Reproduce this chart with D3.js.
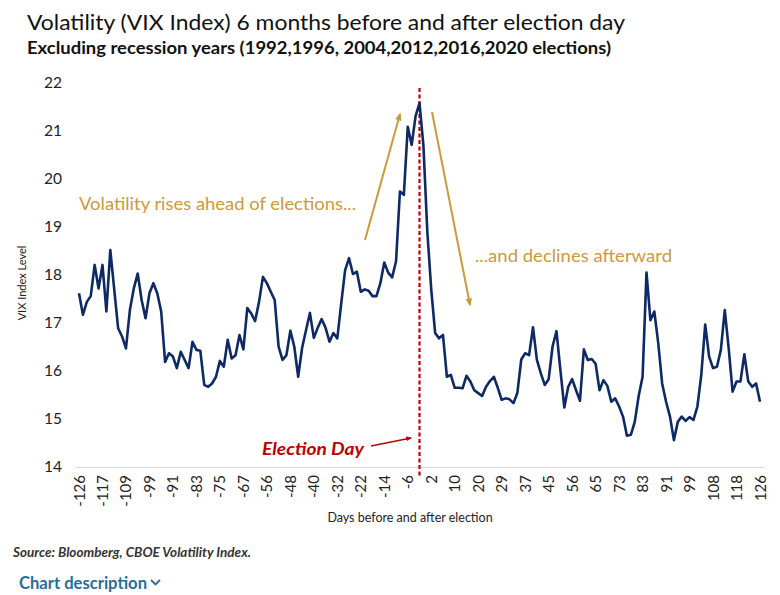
<!DOCTYPE html>
<html><head><meta charset="utf-8">
<script src="https://cdn.jsdelivr.net/npm/d3@7"></script>
<style>
html,body{margin:0;padding:0;background:#fff;}
svg{display:block;font-family:Lato,"Open Sans",sans-serif;}
</style></head>
<body>
<script>
// Tick labels (days before/after election), one every 6 data points
const tickLabels = [-126,-117,-109,-99,-91,-83,-75,-67,-56,-48,-40,-32,-22,-14,-6,2,10,20,29,37,45,56,65,73,83,91,99,108,118,126];
// Average VIX level, 175 observations
const vix = [
17.62,17.17,17.44,17.56,18.21,17.72,18.21,17.24,18.52,17.70,
16.89,16.72,16.47,17.27,17.72,18.03,17.48,17.10,17.62,17.83,
17.62,17.24,16.19,16.37,16.30,16.06,16.40,16.23,16.06,16.61,
16.44,16.42,15.71,15.67,15.74,15.88,16.21,16.09,16.65,16.26,
16.33,16.75,16.45,17.31,17.20,17.04,17.44,17.96,17.83,17.65,
17.48,16.51,16.23,16.33,16.84,16.51,15.88,16.48,16.85,17.21,
16.69,16.90,17.08,16.90,16.61,16.79,16.68,17.41,18.10,18.35,
18.02,18.07,17.65,17.70,17.67,17.56,17.56,17.83,18.26,18.05,
17.95,18.28,19.74,19.67,21.09,20.71,21.31,21.58,20.70,18.90,
17.70,16.79,16.68,16.75,15.88,15.92,15.65,15.65,15.64,15.90,
15.78,15.60,15.54,15.48,15.67,15.79,15.88,15.65,15.40,15.43,
15.41,15.33,15.54,16.24,16.37,16.33,16.91,16.23,15.95,15.71,
15.83,16.51,16.83,16.02,15.24,15.67,15.83,15.60,15.38,16.45,
16.23,16.25,16.15,15.60,15.81,15.69,15.36,15.43,15.26,15.05,
14.65,14.67,14.94,15.48,15.88,18.05,17.06,17.24,16.58,15.74,
15.36,15.05,14.56,14.94,15.05,14.96,15.04,14.98,15.26,15.92,
16.97,16.30,16.06,16.09,16.44,17.27,16.47,15.57,15.78,15.78,
16.35,15.78,15.67,15.74,15.36
];
const yTicks = [14,15,16,17,18,19,20,21,22];
const electionIndex = 87;

const W = 780, H = 595;
const svg = d3.select("body").append("svg").attr("width", W).attr("height", H);

const x = d3.scaleLinear().domain([0, vix.length - 1]).range([79, 760]);
const y = d3.scaleLinear().domain([14, 22]).range([467, 83]);

// Title
svg.append("text").attr("x", 27).attr("y", 30)
  .attr("font-size", 21).attr("fill", "#111")
  .attr("textLength", 598).attr("lengthAdjust", "spacingAndGlyphs")
  .text("Volatility (VIX Index) 6 months before and after election day");
svg.append("text").attr("x", 27).attr("y", 54)
  .attr("font-size", 16.5).attr("font-weight", "bold").attr("fill", "#111")
  .attr("textLength", 584).attr("lengthAdjust", "spacingAndGlyphs")
  .text("Excluding recession years (1992,1996, 2004,2012,2016,2020 elections)");

// Y axis
const yAxis = svg.append("g").attr("transform", "translate(75,0)")
  .call(d3.axisLeft(y).tickValues(yTicks).tickSize(0).tickPadding(13).tickFormat(d3.format("d")));
yAxis.select(".domain").remove();
yAxis.selectAll("text").attr("font-size", 15.5).attr("fill", "#222").attr("font-family", "Lato,sans-serif");

svg.append("text")
  .attr("transform", "translate(26,283) rotate(-90)")
  .attr("text-anchor", "middle").attr("font-size", 11).attr("fill", "#222")
  .text("VIX Index Level");

// X axis
const xAxis = svg.append("g").attr("transform", "translate(0,467)")
  .call(d3.axisBottom(x)
    .tickValues(d3.range(0, vix.length, 6))
    .tickSize(0)
    .tickFormat((d, i) => tickLabels[i]));
xAxis.select(".domain").attr("stroke", "#d9d9d9").attr("stroke-width", 1)
  .attr("d", "M75,0.5H765");
xAxis.selectAll("text")
  .attr("font-size", 15).attr("fill", "#222").attr("font-family", "Lato,sans-serif")
  .attr("text-anchor", "end").attr("dy", null).attr("y", 0)
  .attr("transform", "translate(5,8) rotate(-90)");

svg.append("text").attr("x", 410).attr("y", 522)
  .attr("text-anchor", "middle").attr("font-size", 12.5).attr("fill", "#222")
  .text("Days before and after election");

// Election day dashed line
svg.append("line")
  .attr("x1", x(electionIndex)).attr("x2", x(electionIndex))
  .attr("y1", 88).attr("y2", 477)
  .attr("stroke", "#c00000").attr("stroke-width", 2.2).attr("stroke-dasharray", "4,2.5");

// Data line
svg.append("path").datum(vix)
  .attr("fill", "none").attr("stroke", "#0d2a66").attr("stroke-width", 2.6)
  .attr("stroke-linejoin", "round")
  .attr("d", d3.line().x((d, i) => x(i)).y(d => y(d)));

// Annotations
const gold = "#cc9a3a";
const defs = svg.append("defs");
function marker(id, color) {
  defs.append("marker").attr("id", id).attr("viewBox", "0 0 10 10")
    .attr("refX", 8).attr("refY", 5).attr("markerWidth", 4).attr("markerHeight", 4)
    .attr("orient", "auto")
    .append("path").attr("d", "M0,1L10,5L0,9Z").attr("fill", color);
}
marker("ag", gold);
marker("ar", "#c00000");

svg.append("text").attr("x", 79).attr("y", 210)
  .attr("font-size", 17.5).attr("fill", gold)
  .attr("textLength", 277).attr("lengthAdjust", "spacingAndGlyphs")
  .text("Volatility rises ahead of elections...");
svg.append("line").attr("x1", 365).attr("y1", 240).attr("x2", 400).attr("y2", 114)
  .attr("stroke", gold).attr("stroke-width", 2).attr("marker-end", "url(#ag)");

svg.append("text").attr("x", 475).attr("y", 262)
  .attr("font-size", 17.5).attr("fill", gold)
  .attr("textLength", 197).attr("lengthAdjust", "spacingAndGlyphs")
  .text("...and declines afterward");
svg.append("line").attr("x1", 432).attr("y1", 112).attr("x2", 470).attr("y2", 305)
  .attr("stroke", gold).attr("stroke-width", 2).attr("marker-end", "url(#ag)");

svg.append("text").attr("x", 262).attr("y", 455)
  .attr("font-size", 16.5).attr("font-weight", "bold")
  .attr("font-style", "italic").attr("fill", "#c00000")
  .attr("textLength", 102).attr("lengthAdjust", "spacingAndGlyphs")
  .text("Election Day");
svg.append("line").attr("x1", 371).attr("y1", 446).attr("x2", 411).attr("y2", 438)
  .attr("stroke", "#c00000").attr("stroke-width", 1.5).attr("marker-end", "url(#ar)");

// Footer
svg.append("text").attr("x", 13).attr("y", 557)
  .attr("font-size", 12.5).attr("font-weight", "bold").attr("font-style", "italic").attr("fill", "#333")
  .attr("textLength", 238).attr("lengthAdjust", "spacingAndGlyphs")
  .text("Source: Bloomberg, CBOE Volatility Index.");
svg.append("text").attr("x", 19).attr("y", 589)
  .attr("font-size", 16.5).attr("font-weight", "bold").attr("fill", "#23709a")
  .attr("textLength", 128).attr("lengthAdjust", "spacingAndGlyphs")
  .text("Chart description");
svg.append("path").attr("d", "M151,580L155.5,584.5L160,580")
  .attr("fill", "none").attr("stroke", "#23709a").attr("stroke-width", 1.8);
</script>
</body></html>
